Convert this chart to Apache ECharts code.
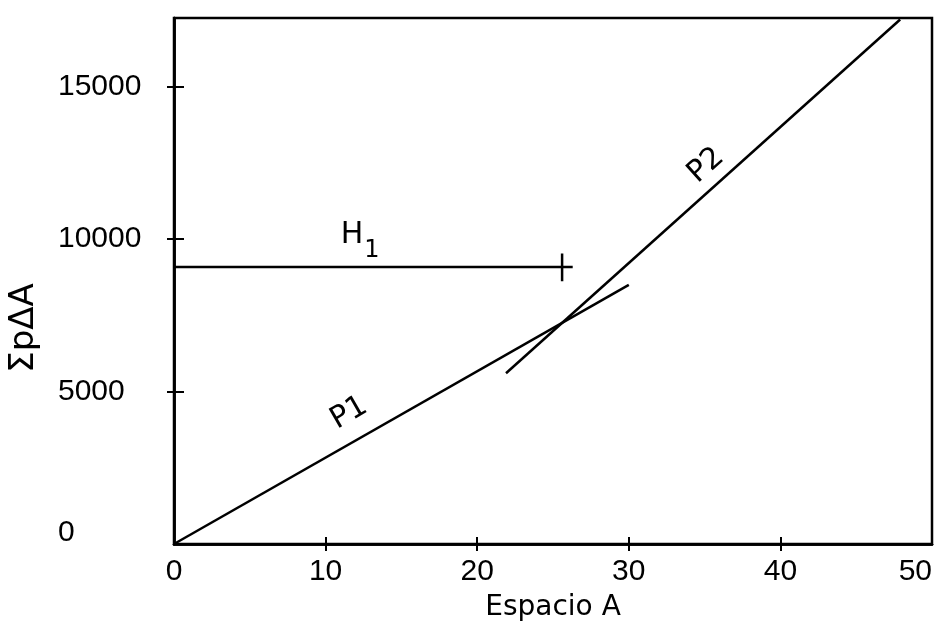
<!DOCTYPE html>
<html>
<head>
<meta charset="utf-8">
<script src="https://cdn.jsdelivr.net/npm/echarts@6/dist/echarts.min.js"></script>
<style>
html,body{margin:0;padding:0;background:#fff;}
#chart{width:939px;height:629px;}
</style>
</head>
<body>
<div id="chart"></div>
<script>
// Axis ticks
const xTicks = [0, 10, 20, 30, 40, 50];
const xTickMarks = [10, 20, 30, 40];
const yTicks = [0, 5000, 10000, 15000];
const yTickMarks = [5000, 10000, 15000];
// Lines (Espacio A, ΣpΔA)
const lineP1 = [[0, 0], [30, 8500]];
const lineP2 = [[21.9, 5600], [47.9, 17200]];
const lineH1 = [[0, 9085], [26.3, 9085]];
const tickH1 = [[25.6, 8620], [25.6, 9530]];
// Annotation label anchors
const labelH1 = [11.0, 10134];
const labelP1 = [11.55, 4289];
const labelP2 = [35.1, 12410];

const tickFont = "'Liberation Sans', sans-serif";
const textFont = "'DejaVu Sans', sans-serif";

const chart = echarts.init(document.getElementById('chart'), null, {renderer: 'canvas'});

function lineSeries(data) {
  return {
    type: 'line', data: data, symbol: 'none', silent: true,
    lineStyle: {color: '#000', width: 2.5}, animation: false, z: 5
  };
}
function textPoint(pt, fmt, rotate, rich, align) {
  return {
    type: 'scatter', data: [pt], symbolSize: 0, silent: true, animation: false,
    label: {
      show: true, position: [0, 0], align: align || 'center', verticalAlign: 'middle',
      rotate: rotate || 0, formatter: fmt, color: '#000', opacity: 1, textBorderWidth: 0,
      fontFamily: textFont, fontSize: 30, rich: rich || {}
    }
  };
}

const axisCommon = {
  axisLine: {show: true, lineStyle: {color: '#000', width: 2.5}},
  splitLine: {show: false}
};
const plainNum = function (v) { return String(v); };
const yNum = function (v) { return v === 0 ? '{z|0}' : String(v); };

chart.setOption({
  backgroundColor: '#fff',
  animation: false,
  grid: {left: 174, right: 7, top: 18, bottom: 85, outerBoundsMode: 'none', containLabel: false,
         show: true, borderColor: '#000', borderWidth: 2.5, backgroundColor: 'transparent'},
  xAxis: [
    Object.assign({
      type: 'value', min: 0, max: 50, interval: 10,
      name: 'Espacio A', nameLocation: 'middle', nameGap: 50,
      nameTextStyle: {fontFamily: textFont, fontSize: 28, color: '#000'},
      axisTick: {show: true, inside: false, length: 7, lineStyle: {color: '#000', width: 2}, customValues: xTickMarks},
      axisLabel: {show: true, margin: 13, color: '#000', fontFamily: tickFont, fontSize: 30,
                  customValues: xTicks, formatter: plainNum, alignMaxLabel: 'right'}
    }, axisCommon),
    Object.assign({
      type: 'value', min: 0, max: 50, interval: 10, position: 'bottom',
      axisTick: {show: true, inside: true, length: 7, lineStyle: {color: '#000', width: 2}, customValues: xTickMarks},
      axisLabel: {show: false}
    }, axisCommon)
  ],
  yAxis: [
    Object.assign({
      type: 'value', min: 0, max: 17250, interval: 5000,
      axisTick: {show: true, inside: false, length: 7, lineStyle: {color: '#000', width: 2}, customValues: yTickMarks},
      axisLabel: {show: true, margin: 116, align: 'left', color: '#000', fontFamily: tickFont, fontSize: 30,
                  customValues: yTicks, formatter: yNum,
                  rich: {z: {fontFamily: tickFont, fontSize: 30, color: '#000', padding: [0, 0, 22, 0]}}}
    }, axisCommon),
    Object.assign({
      type: 'value', min: 0, max: 17250, interval: 5000, position: 'left',
      axisTick: {show: true, inside: true, length: 10, lineStyle: {color: '#000', width: 2}, customValues: yTickMarks},
      axisLabel: {show: false}
    }, axisCommon)
  ],
  graphic: [{
    type: 'text', x: 24, y: 328, rotation: Math.PI / 2,
    style: {text: 'ΣpΔA', fill: '#000', font: "34px 'DejaVu Sans', sans-serif", align: 'center', verticalAlign: 'middle'}
  }],
  series: [
    lineSeries(lineP1),
    lineSeries(lineP2),
    lineSeries(lineH1),
    lineSeries(tickH1),
    textPoint(labelH1, '{h|H}{s|1}', 0, {
      h: {fontSize: 30, fontFamily: textFont, color: '#000'},
      s: {fontSize: 24, fontFamily: textFont, color: '#000', padding: [32, 0, 0, 1]}
    }, 'left'),
    textPoint(labelP1, 'P1', 30),
    textPoint(labelP2, 'P2', 42)
  ]
});
</script>
</body>
</html>
